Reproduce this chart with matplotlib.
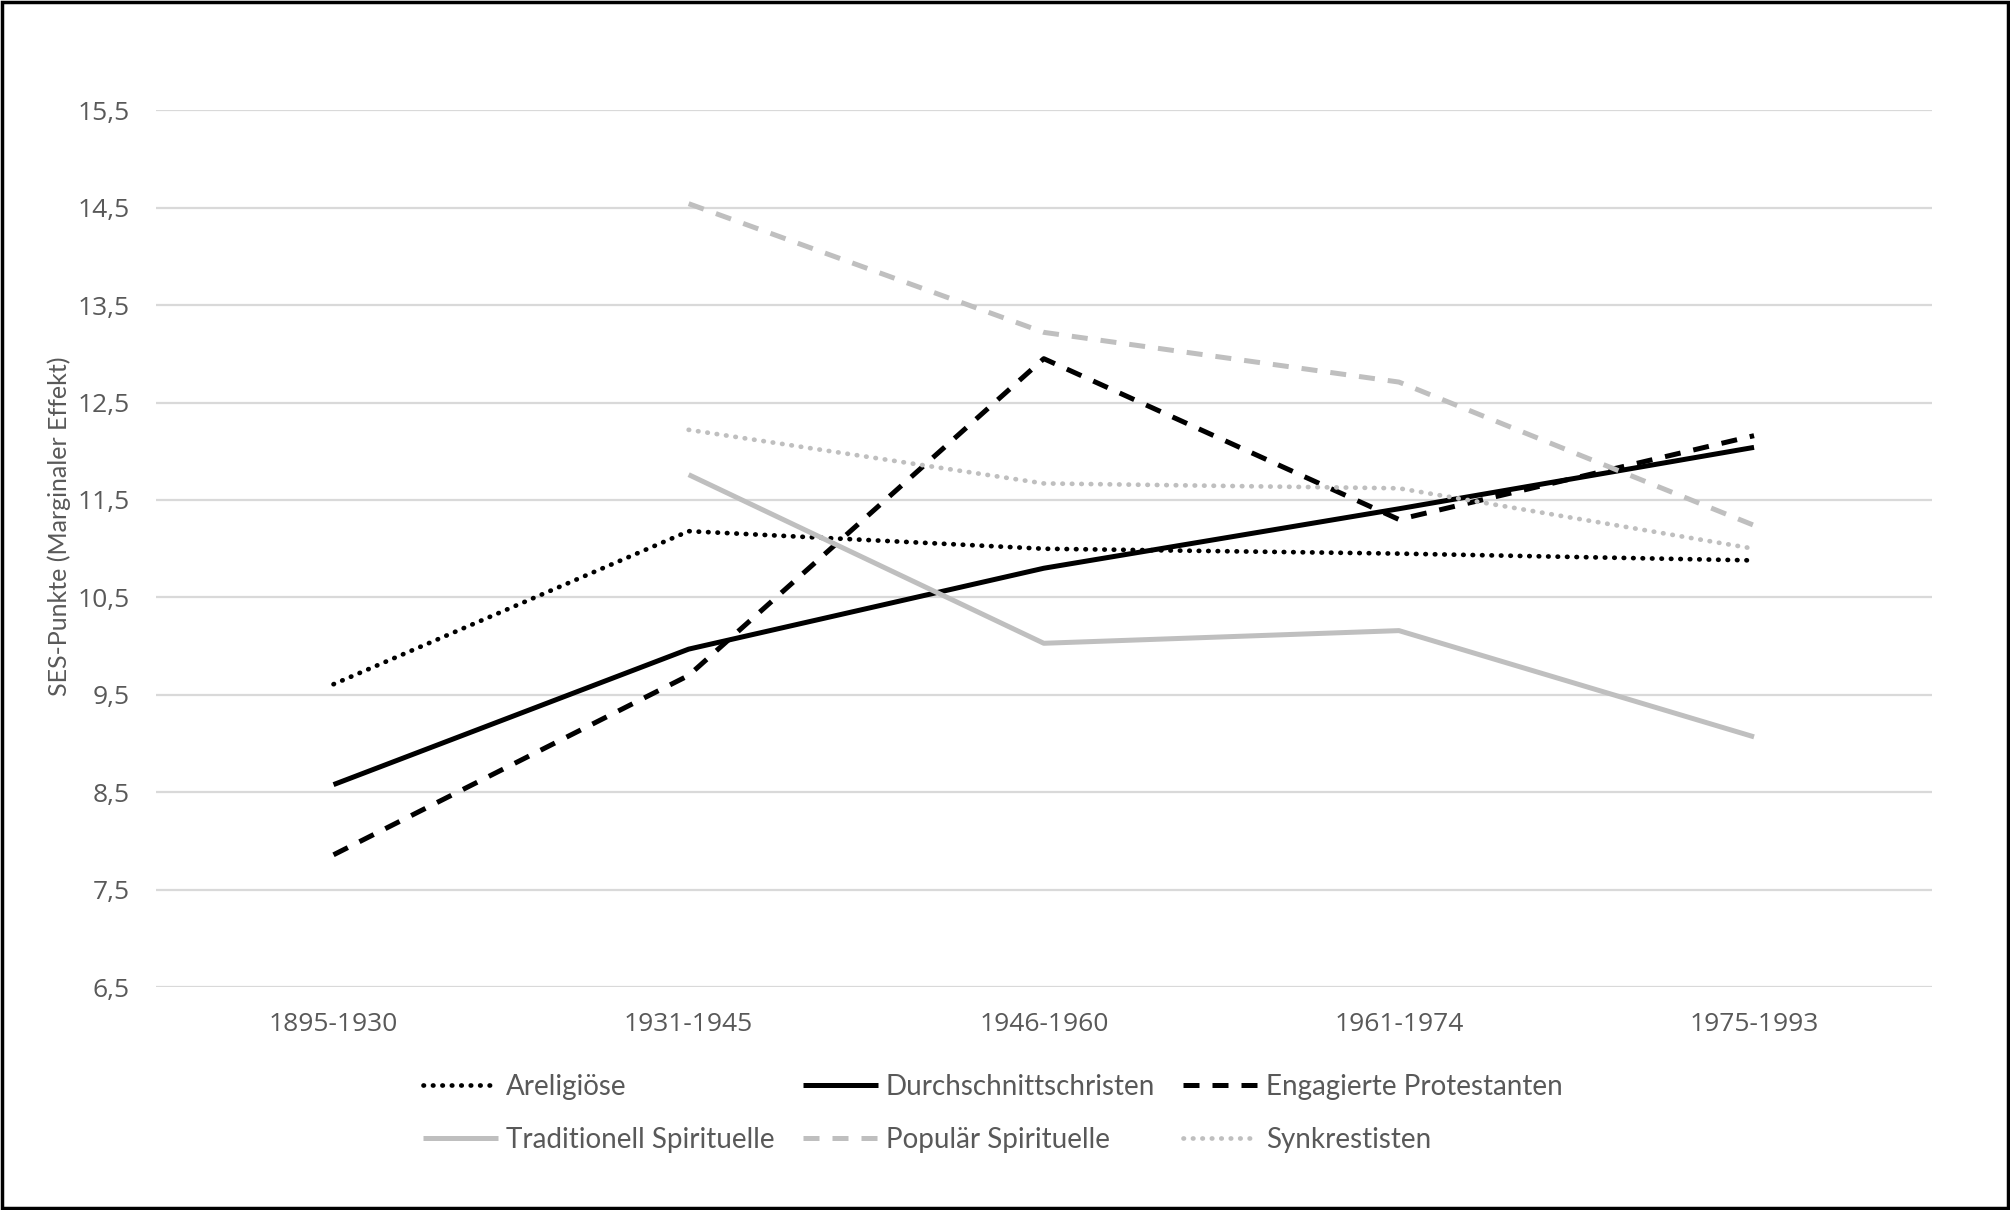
import matplotlib.pyplot as plt

# Kohorten und Werte
kohorten = ['1895-1930', '1931-1945', '1946-1960', '1961-1974', '1975-1993']
areligioese = [9.61, 11.18, 11.00, 10.95, 10.88]
durchschnitt = [8.58, 9.97, 10.80, 11.41, 12.04]
engagiert = [7.86, 9.70, 12.95, 11.30, 12.16]
traditionell = [None, 11.76, 10.03, 10.16, 9.07]
populaer = [None, 14.54, 13.22, 12.71, 11.24]
synkretisten = [None, 12.22, 11.67, 11.62, 11.00]
yticks = [6.5, 7.5, 8.5, 9.5, 10.5, 11.5, 12.5, 13.5, 14.5, 15.5]

schwarz = '#000000'
grau = '#BFBFBF'
txt = '#595959'
schmal = ['Lato', 'DejaVu Sans']

fig = plt.figure(figsize=(20.1, 12.1), dpi=100)
ax = fig.add_axes([0.0776, 0.184, 0.8834, 0.725])

def zeichne(werte, farbe, stil, name):
    xs = [i for i, v in enumerate(werte) if v is not None]
    ys = [v for v in werte if v is not None]
    if stil == 'dot':
        return ax.plot(xs, ys, color=farbe, lw=3.4, linestyle=(0, (0.1, 1.9)),
                       dash_capstyle='round', label=name)[0]
    elif stil == 'dash':
        return ax.plot(xs, ys, color=farbe, lw=3.6, linestyle=(0, (3.2, 2.6)),
                       dash_capstyle='butt', label=name)[0]
    return ax.plot(xs, ys, color=farbe, lw=3.6, solid_capstyle='butt', label=name)[0]

h = [
    zeichne(areligioese, schwarz, 'dot', 'Areligiöse'),
    zeichne(durchschnitt, schwarz, 'solid', 'Durchschnittschristen'),
    zeichne(engagiert, schwarz, 'dash', 'Engagierte Protestanten'),
    zeichne(traditionell, grau, 'solid', 'Traditionell Spirituelle'),
    zeichne(populaer, grau, 'dash', 'Populär Spirituelle'),
    zeichne(synkretisten, grau, 'dot', 'Synkrestisten'),
]

ax.set_xlim(-0.5, len(kohorten) - 0.5)
ax.set_ylim(6.5, 15.5)
ax.set_xticks(range(len(kohorten)))
ax.set_xticklabels(kohorten)
ax.set_yticks(yticks)
ax.set_yticklabels([str(v).replace('.', ',') for v in yticks])
ax.tick_params(length=0, labelsize=19, labelcolor=txt)
ax.tick_params(axis='x', pad=18)
ax.tick_params(axis='y', pad=19)
for lab in ax.get_xticklabels() + ax.get_yticklabels():
    lab.set_family('Open Sans')
ax.grid(axis='y', color='#D9D9D9', lw=1.6)
ax.set_axisbelow(True)
for s in ax.spines.values():
    s.set_visible(False)

ax.set_ylabel('SES-Punkte (Marginaler Effekt)', fontsize=18, color=txt, family=schmal)
ax.yaxis.set_label_coords(-0.048, 0.526)

# Reihenfolge so, dass die Legende zeilenweise gelesen wird
order = [0, 3, 1, 4, 2, 5]
leg = fig.legend([h[i] for i in order], [h[i].get_label() for i in order],
                 loc='center', bbox_to_anchor=(0.494, 0.080), ncol=3,
                 frameon=False, prop={'family': schmal, 'size': 20},
                 handlelength=2.7, handletextpad=0.3, columnspacing=1.0,
                 labelspacing=0.98)
for t in leg.get_texts():
    t.set_color(txt)

fig.patches.append(plt.Rectangle((0.0012, 0.002), 0.9976, 0.996, transform=fig.transFigure,
                                 fill=False, edgecolor='black', lw=2.5))

fig.savefig('out.png', dpi=100, facecolor='white')
